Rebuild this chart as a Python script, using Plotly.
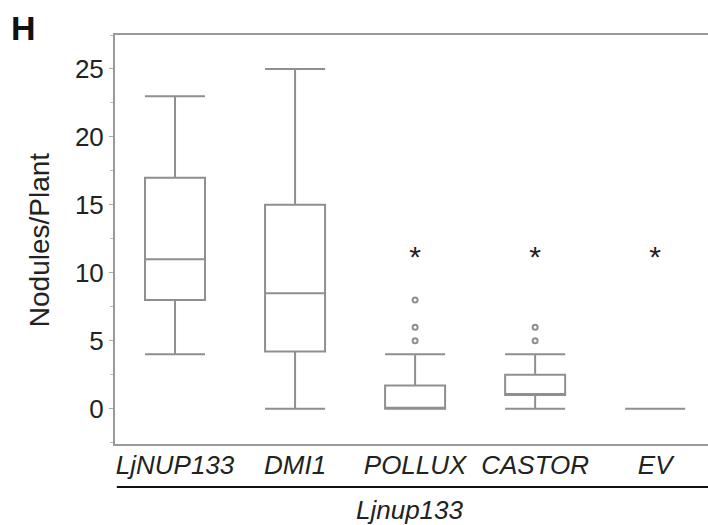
import plotly.graph_objects as go

categories = ["LjNUP133", "DMI1", "POLLUX", "CASTOR", "EV"]
q1 = [8, 4.2, 0, 1, 0]
median = [11, 8.5, 0, 1, 0]
q3 = [17, 15, 1.7, 2.5, 0]
lower_fence = [4, 0, 0, 0, 0]
upper_fence = [23, 25, 4, 4, 0]
outlier_cat = ["POLLUX", "POLLUX", "POLLUX", "CASTOR", "CASTOR"]
outlier_val = [5, 6, 8, 5, 6]
star_cat = ["POLLUX", "CASTOR", "EV"]
star_val = [11.0, 11.0, 11.0]
y_ticks = [0, 5, 10, 15, 20, 25]

xi = {c: i for i, c in enumerate(categories)}
grey = "#8f8f8f"
font_family = "Liberation Sans, Arial, sans-serif"

fig = go.Figure()
fig.add_trace(go.Box(
    x=list(range(len(categories))), q1=q1, median=median, q3=q3,
    lowerfence=lower_fence, upperfence=upper_fence,
    line=dict(color=grey, width=2), fillcolor="rgba(255,255,255,0)",
    whiskerwidth=1, width=0.5, boxpoints=False, showlegend=False,
    hoverinfo="skip",
))
fig.add_trace(go.Scatter(
    x=[xi[c] for c in outlier_cat], y=outlier_val, mode="markers",
    marker=dict(symbol="circle-open", size=5, color=grey, line=dict(width=2, color=grey)),
    showlegend=False,
))
fig.add_trace(go.Scatter(
    x=[xi[c] for c in star_cat], y=star_val, mode="text", text=["*"] * len(star_cat),
    textfont=dict(size=30, color="#222", family=font_family), textposition="middle center",
    showlegend=False,
))

fig.update_layout(
    width=708, height=525, margin=dict(l=115, r=0, t=35, b=81),
    plot_bgcolor="white", paper_bgcolor="white",
    font=dict(family=font_family, color="#222"),
    xaxis=dict(
        range=[-0.5, 4.44], tickvals=list(range(len(categories))),
        ticktext=["<i>%s</i>" % c for c in categories],
        tickfont=dict(size=26, color="#222"), showgrid=False, zeroline=False,
        showline=True, linecolor="#999", linewidth=2, mirror=True, ticks="",
        ticklabelstandoff=-3,
    ),
    yaxis=dict(
        range=[-2.6, 27.5], tickvals=y_ticks, tickfont=dict(size=26, color="#222"),
        showgrid=False, zeroline=False, showline=True, linecolor="#999", linewidth=2,
        ticks="outside", ticklen=4, tickcolor="#aaa", tickwidth=1,
        minor=dict(dtick=2.5, ticks="outside", ticklen=3, tickcolor="#bbb", tickwidth=1),
    ),
    shapes=[dict(type="line", xref="paper", yref="paper", x0=0.003, x1=1,
                 y0=-0.105, y1=-0.105, line=dict(color="#111", width=2))],
    annotations=[
        dict(text="<b>H</b>", xref="paper", yref="paper", x=-0.155, y=1.018,
             xanchor="center", yanchor="middle",
             showarrow=False, font=dict(size=34, color="#111")),
        dict(text="Nodules/Plant", xref="paper", yref="paper", x=-0.126, y=0.499,
             xanchor="center", yanchor="middle",
             textangle=-90, showarrow=False, font=dict(size=28, color="#222")),
        dict(text="<i>Ljnup133</i>", xref="paper", yref="paper", x=0.497, y=-0.161,
             xanchor="center", yanchor="middle",
             showarrow=False, font=dict(size=26, color="#222")),
    ],
)
fig.write_html("out.html")
